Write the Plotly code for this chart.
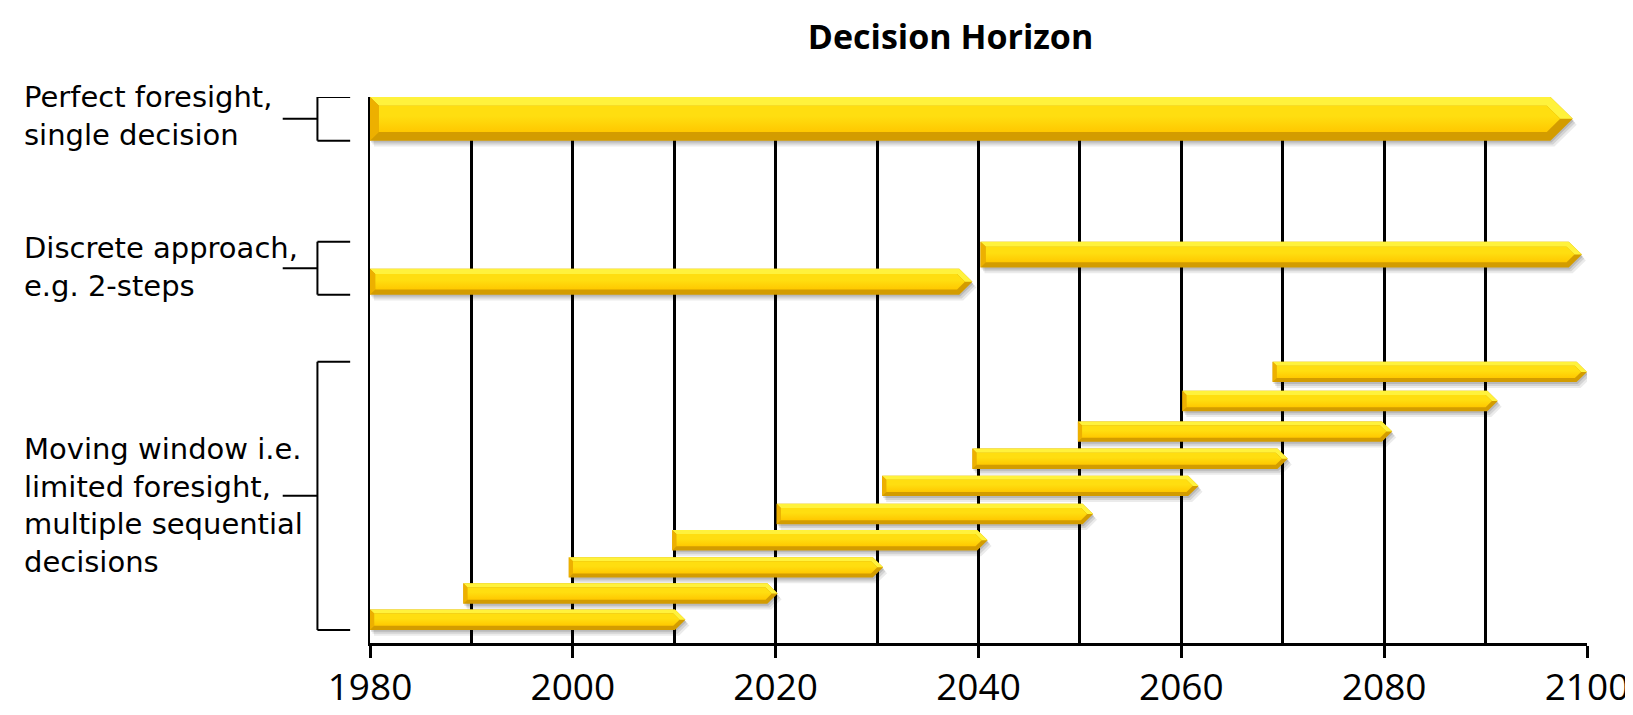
import math
import plotly.graph_objects as go

# ---------------- data ----------------
title_text = "Decision Horizon"
group_labels = [
    "Perfect foresight,<br>single decision",
    "Discrete approach,<br>e.g. 2-steps",
    "Moving window i.e.<br>limited foresight,<br>multiple sequential<br>decisions",
]
# each bar: start year, arrow-tip year, group index
bar_start = [1980, 2040.2, 1980, 1980, 1989.2, 1999.6, 2009.8, 2020.1, 2030.5, 2039.4, 2049.8, 2060.1, 2069.0]
bar_end = [2098.6, 2099.5, 2039.4, 2011.1, 2020.2, 2030.6, 2040.9, 2051.3, 2061.7, 2070.5, 2080.8, 2091.2, 2100.0]
bar_group = [0, 1, 1, 2, 2, 2, 2, 2, 2, 2, 2, 2, 2]
tick_years = [1980, 2000, 2020, 2040, 2060, 2080, 2100]

# ---------------- layout constants ----------------
W, H = 1633, 715
ML, MR, MT, MB = 362, 44, 89, 63
X0, X1 = 1980, 2100
Y0, Y1 = 0, (H - MT - MB) / 10.0
PX_X = (W - ML - MR) / (X1 - X0)   # px per year
PX_Y = 10.0                          # px per y unit
ROW_Y = [54.05, 40.05, 37.25, 2.4, 5.1, 7.8, 10.6, 13.3, 16.2, 19.0, 21.8, 24.95, 27.95]
GROUP_HALF = [2.25, 1.33, 1.05]      # half bar height per group (y units)
LABEL_SHIFT = [3, 1, -10]

C_BASE = "#D39C00"
C_TOP = "#FFF23C"
C_LEFT = "#EDB000"
C_FACE_TOP = "#FFDE10"
C_FACE_BOT = "#FFC800"


def arrow_geometry(x0, x1, c, hh):
    h_px = 2 * hh * PX_Y
    head = 0.5 * h_px / PX_X
    d = max(3.0, 0.2 * h_px)
    dx, dy = d / PX_X, d / PX_Y
    top, bot = c + hh, c - hh
    xb = x1 - head
    ix0, itop, ibot = x0 + dx, top - dy, bot + dy
    ixb = xb - 0.414 * dx
    itip = x1 - 1.414 * dx
    outer = [(x0, top), (xb, top), (x1, c), (xb, bot), (x0, bot)]
    inner = [(ix0, itop), (ixb, itop), (itip, c), (ixb, ibot), (ix0, ibot)]
    topbev = [(x0, top), (xb, top), (x1, c), (itip, c), (ixb, itop), (ix0, itop)]
    leftbev = [(x0, top), (ix0, itop), (ix0, ibot), (x0, bot)]
    return outer, inner, topbev, leftbev


def join(polys, sx=0.0, sy=0.0):
    xs, ys = [], []
    for p in polys:
        for (x, y) in p + [p[0]]:
            xs.append(x + sx)
            ys.append(y + sy)
        xs.append(None)
        ys.append(None)
    return xs, ys


geo = []
for s, e, g, r in zip(bar_start, bar_end, bar_group, ROW_Y):
    geo.append(arrow_geometry(s, e, r, GROUP_HALF[g]))

fig = go.Figure()


def poly_trace(polys, color, sx=0.0, sy=0.0):
    xs, ys = join(polys, sx, sy)
    fig.add_trace(go.Scatter(x=xs, y=ys, mode="lines", fill="toself", fillcolor=color,
                             line=dict(width=0, color=color), hoverinfo="skip", showlegend=False))


outers = [g_[0] for g_ in geo]
poly_trace(outers, "rgba(0,0,0,0.08)", 4 / PX_X, -6 / PX_Y)
poly_trace(outers, "rgba(0,0,0,0.10)", 2.5 / PX_X, -4 / PX_Y)
poly_trace(outers, "rgba(0,0,0,0.12)", 1 / PX_X, -2 / PX_Y)
poly_trace(outers, C_BASE)
poly_trace([g_[2] for g_ in geo], C_TOP)
poly_trace([g_[3] for g_ in geo], C_LEFT)
for g_ in geo:
    xs, ys = join([g_[1]])
    fig.add_trace(go.Scatter(x=xs, y=ys, mode="lines", fill="toself", fillcolor=C_FACE_BOT,
                             fillgradient=dict(type="vertical",
                                               colorscale=[[0, C_FACE_BOT], [0.6, C_FACE_TOP], [1, C_FACE_TOP]]),
                             line=dict(width=0, color=C_FACE_BOT), hoverinfo="skip", showlegend=False))

PW = W - ML - MR
PH = H - MT - MB
BR_V = (309 - ML) / PW
BR_ARM = (342 - ML) / PW
BR_STUB = (274 - ML) / PW
LBL_X = (11 - ML) / PW
shapes = []
annotations = []
for gi, label in enumerate(group_labels):
    idx = [i for i, g in enumerate(bar_group) if g == gi]
    tops = [geo[i][0][0][1] for i in idx]
    bots = [geo[i][0][4][1] for i in idx]
    yt, yb = max(tops), min(bots)
    ym = (yt + yb) / 2
    line = dict(color="black", width=2)
    shapes.append(dict(type="line", xref="paper", yref="y", x0=BR_V, x1=BR_ARM, y0=yt, y1=yt, line=line))
    shapes.append(dict(type="line", xref="paper", yref="y", x0=BR_V, x1=BR_ARM, y0=yb, y1=yb, line=line))
    shapes.append(dict(type="line", xref="paper", yref="y", x0=BR_V, x1=BR_V, y0=yb, y1=yt, line=line))
    shapes.append(dict(type="line", xref="paper", yref="y", x0=BR_STUB, x1=BR_V, y0=ym, y1=ym, line=line))
    annotations.append(dict(text=label, xref="paper", yref="y", x=LBL_X, y=ym, xanchor="left",
                            yanchor="middle", align="left", showarrow=False, yshift=LABEL_SHIFT[gi],
                            font=dict(family="DejaVu Sans", size=29, color="black")))

fig.update_layout(
    width=W, height=H,
    margin=dict(l=ML, r=MR, t=MT, b=MB, pad=0),
    paper_bgcolor="white", plot_bgcolor="white",
    title=dict(text="<b>" + title_text + "</b>", xref="paper", x=0.477, xanchor="center",
               yref="container", y=1 - 29 / H, yanchor="middle",
               font=dict(family="Open Sans", size=34, color="black")),
    shapes=shapes,
    annotations=annotations,
    showlegend=False,
)
fig.update_xaxes(
    range=[X0, X1], tickmode="array", tickvals=tick_years, ticktext=[str(t) for t in tick_years],
    showline=True, linecolor="black", linewidth=3,
    ticks="outside", ticklen=12, tickwidth=3, tickcolor="black",
    showgrid=True, gridcolor="black", gridwidth=2.5, zeroline=False,
    minor=dict(dtick=10, tick0=1980, showgrid=True, gridcolor="black", gridwidth=2.5, ticks=""),
    tickfont=dict(family="Open Sans", size=37, color="black"), ticklabelstandoff=-2,
    ticklabeloverflow="allow",
    fixedrange=True,
)
fig.update_yaxes(
    range=[Y0, Y1], showticklabels=False, ticks="", showgrid=False, zeroline=False,
    showline=True, linecolor="black", linewidth=2, fixedrange=True,
)
fig.write_html("out.html", config={"displayModeBar": False})
